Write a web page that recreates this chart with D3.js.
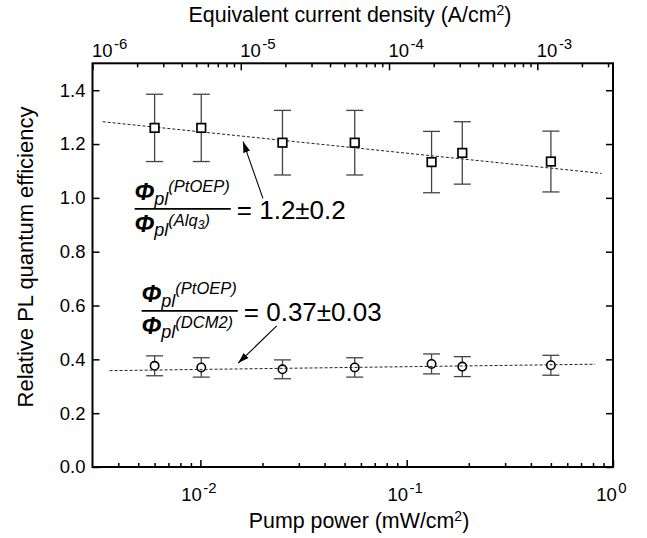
<!DOCTYPE html>
<html>
<head>
<meta charset="utf-8">
<script src="https://cdn.jsdelivr.net/npm/d3@7"></script>
<style>
  body { margin: 0; background: #fff; }
  text { font-family: "Liberation Sans", Arial, Helvetica, sans-serif; fill: #000; }
</style>
</head>
<body>
<script>
// pump power of each measurement (mW/cm2)
const pumpPower = [0.006, 0.0101, 0.025, 0.056, 0.132, 0.186, 0.50];
// PtOEP / Alq3 ratio
const alqRatio = [1.26, 1.26, 1.205, 1.205, 1.133, 1.167, 1.135];
const alqErr = [0.125, 0.125, 0.12, 0.12, 0.114, 0.116, 0.113];
// PtOEP / DCM2 ratio
const dcmRatio = [0.376, 0.370, 0.363, 0.370, 0.383, 0.373, 0.378];
const dcmErr = [0.037, 0.036, 0.035, 0.036, 0.037, 0.037, 0.037];
// dashed fits (end points)
const alqFitX = [0.00336, 0.88];
const alqFitY = [1.283, 1.091];
const dcmFitX = [0.00363, 0.82];
const dcmFitY = [0.358, 0.382];
// axes
const yTicks = [0, 0.2, 0.4, 0.6, 0.8, 1.0, 1.2, 1.4];
const bottomMajor = [0.01, 0.1, 1];
const bottomExp = ['-2', '-1', '0'];
const topMajor = [1e-6, 1e-5, 1e-4, 1e-3];
const topExp = ['-6', '-5', '-4', '-3'];
// annotation anchors (data coords)
const alqArrowFrom = [0.0201, 0.998], alqArrowTo = [0.0161, 1.209];
const dcmArrowFrom = [0.02344, 0.524], dcmArrowTo = [0.01525, 0.386];
const alqLabelAt = [0.0048, 0.959], dcmLabelAt = [0.00519, 0.580];

const margin = { top: 63.3, right: 34, bottom: 71, left: 92.5 };
const W = 647, H = 538;
const width = W - margin.left - margin.right;
const height = H - margin.top - margin.bottom;

const svg = d3.select('body').append('svg')
  .attr('width', W)
  .attr('height', H);

const defs = svg.append('defs');
defs.append('marker')
  .attr('id', 'arrow')
  .attr('markerUnits', 'userSpaceOnUse')
  .attr('markerWidth', 12).attr('markerHeight', 8)
  .attr('refX', 11).attr('refY', 3.5)
  .attr('orient', 'auto')
  .append('path')
  .attr('d', 'M0,0 L11,3.5 L0,7 Z')
  .attr('fill', '#000');

const g = svg.append('g')
  .attr('transform', `translate(${margin.left}, ${margin.top})`);

const x = d3.scaleLog().domain([0.003, 1]).range([0, width]);
const xTop = d3.scaleLog().domain([1e-6, 3.24e-3]).range([0, width]);
const y = d3.scaleLinear().domain([0, 1.5]).range([height, 0]);

// ticks
const bottomMinor = x.ticks().filter(v => !bottomMajor.some(m => Math.abs(m - v) / m < 1e-6) && v > 0.0031);
const topMinor = xTop.ticks().filter(v => !topMajor.some(m => Math.abs(m - v) / m < 1e-6));

function styleAxis(sel) {
  sel.select('.domain').remove();
  sel.selectAll('.tick line').attr('stroke', '#000').attr('stroke-width', 1.5);
}

g.append('g').attr('transform', `translate(0, ${height})`)
  .call(d3.axisBottom(x).tickValues(bottomMajor).tickSize(-7).tickFormat(''))
  .call(styleAxis);
g.append('g').attr('transform', `translate(0, ${height})`)
  .call(d3.axisBottom(x).tickValues(bottomMinor).tickSize(-4).tickFormat(''))
  .call(styleAxis);
g.append('g')
  .call(d3.axisTop(xTop).tickValues(topMajor).tickSize(-7).tickFormat(''))
  .call(styleAxis);
g.append('g')
  .call(d3.axisTop(xTop).tickValues(topMinor).tickSize(-4).tickFormat(''))
  .call(styleAxis);

const yAxis = g.append('g')
  .call(d3.axisLeft(y).tickValues(yTicks).tickSize(-7).tickPadding(7).tickFormat(d3.format('.1f')))
  .call(styleAxis);
yAxis.selectAll('text').style('font-size', '18.5px').attr('font-family', null);

g.append('g').attr('transform', `translate(${width}, 0)`)
  .call(d3.axisRight(y).tickValues(yTicks).tickSize(-7).tickFormat(''))
  .call(styleAxis);

// power-of-ten labels
function powerLabel(sel, exp) {
  sel.append('tspan').style('font-size', '18.5px').text('10');
  sel.append('tspan').style('font-size', '15px').attr('dx', 1.5).attr('dy', -8).text(exp);
}
bottomMajor.forEach((v, i) => {
  g.append('text')
    .attr('x', x(v) - 1.5)
    .attr('y', height + 34)
    .attr('text-anchor', 'middle')
    .call(powerLabel, bottomExp[i]);
});
topMajor.forEach((v, i) => {
  g.append('text')
    .attr('x', xTop(v) - 0.5)
    .attr('y', -6.5)
    .attr('text-anchor', 'start')
    .call(powerLabel, topExp[i]);
});

// titles
const bt = svg.append('text')
  .attr('x', 359).attr('y', 528)
  .attr('text-anchor', 'middle')
  .style('font-size', '21.4px')
  .text('Pump power (mW/cm');
bt.append('tspan').style('font-size', '14px').attr('dy', -7).text('2');
bt.append('tspan').attr('dy', 7).text(')');

const tt = svg.append('text')
  .attr('x', 350).attr('y', 22)
  .attr('text-anchor', 'middle')
  .style('font-size', '21.4px')
  .text('Equivalent current density (A/cm');
tt.append('tspan').style('font-size', '14px').attr('dy', -7).text('2');
tt.append('tspan').attr('dy', 7).text(')');

svg.append('text')
  .attr('transform', 'rotate(-90)')
  .attr('x', -257).attr('y', 33)
  .attr('text-anchor', 'middle')
  .style('font-size', '22px')
  .text('Relative PL quantum efficiency');

// fit lines
const line = d3.line().x(d => x(d[0])).y(d => y(d[1]));
function fit(xs, ys) {
  g.append('path')
    .datum(d3.zip(xs, ys))
    .attr('d', line)
    .attr('fill', 'none')
    .attr('stroke', '#222')
    .attr('stroke-width', 1)
    .attr('stroke-dasharray', '3,2');
}

// error bars + markers
function series(vals, errs, shape) {
  const data = d3.zip(pumpPower, vals, errs);
  const eb = g.append('g').attr('stroke', '#444').attr('stroke-width', 1.3);
  data.forEach(d => {
    const cx = x(d[0]);
    eb.append('line').attr('x1', cx).attr('x2', cx).attr('y1', y(d[1] - d[2])).attr('y2', y(d[1] + d[2]));
    [d[1] - d[2], d[1] + d[2]].forEach(v => {
      eb.append('line').attr('x1', cx - 8.5).attr('x2', cx + 8.5).attr('y1', y(v)).attr('y2', y(v));
    });
  });
  const mk = g.append('g');
  if (shape === 'square') {
    mk.selectAll('rect').data(data).enter().append('rect')
      .attr('x', d => x(d[0]) - 4.3).attr('y', d => y(d[1]) - 4.3)
      .attr('width', 8.6).attr('height', 8.6)
      .attr('fill', '#fff').attr('stroke', '#000').attr('stroke-width', 1.7);
  } else {
    mk.selectAll('circle').data(data).enter().append('circle')
      .attr('cx', d => x(d[0])).attr('cy', d => y(d[1])).attr('r', 4.2)
      .attr('fill', '#fff').attr('stroke', '#000').attr('stroke-width', 1.6);
  }
}

fit(alqFitX, alqFitY);
series(alqRatio, alqErr, 'square');
series(dcmRatio, dcmErr, 'circle');
fit(dcmFitX, dcmFitY);

// arrows
function arrow(from, to) {
  g.append('line')
    .attr('x1', x(from[0])).attr('y1', y(from[1]))
    .attr('x2', x(to[0])).attr('y2', y(to[1]))
    .attr('stroke', '#000').attr('stroke-width', 1.1)
    .attr('marker-end', 'url(#arrow)');
}
arrow(alqArrowFrom, alqArrowTo);
arrow(dcmArrowFrom, dcmArrowTo);

// ratio formulas
function formula(at, denName, denSub, value) {
  const bx = x(at[0]), by = y(at[1]);
  const f = g.append('g');
  const num = f.append('text').attr('x', bx).attr('y', by - 9).style('font-style', 'italic');
  num.append('tspan').style('font-size', '24px').style('font-weight', 'bold').text('Φ');
  num.append('tspan').style('font-size', '18px').attr('dy', 5).text('pl');
  num.append('tspan').style('font-size', '16.5px').attr('dy', -13).text('(PtOEP)');

  const den = f.append('text').attr('x', bx).attr('y', by + 23).style('font-style', 'italic');
  den.append('tspan').style('font-size', '24px').style('font-weight', 'bold').text('Φ');
  den.append('tspan').style('font-size', '18px').attr('dy', 4).text('pl');
  den.append('tspan').style('font-size', '16.5px').attr('dy', -10).text('(' + denName);
  if (denSub) {
    den.append('tspan').style('font-size', '12px').attr('dy', 3).text(denSub);
    den.append('tspan').style('font-size', '16.5px').attr('dy', -3).text(')');
  } else {
    den.append('tspan').style('font-size', '16.5px').text(')');
  }
  const w = Math.max(num.node().getComputedTextLength(), den.node().getComputedTextLength()) + 1;
  f.append('line')
    .attr('x1', bx).attr('x2', bx + w)
    .attr('y1', by).attr('y2', by)
    .attr('stroke', '#000').attr('stroke-width', 1.6);
  f.append('text')
    .attr('x', bx + w + 6).attr('y', by + 10)
    .style('font-size', '26px')
    .text('= ' + value);
}
formula(alqLabelAt, 'Alq', '3', '1.2±0.2');
formula(dcmLabelAt, 'DCM2', '', '0.37±0.03');

// frame
g.append('rect')
  .attr('width', width).attr('height', height)
  .attr('fill', 'none').attr('stroke', '#000').attr('stroke-width', 2);
</script>
</body>
</html>
